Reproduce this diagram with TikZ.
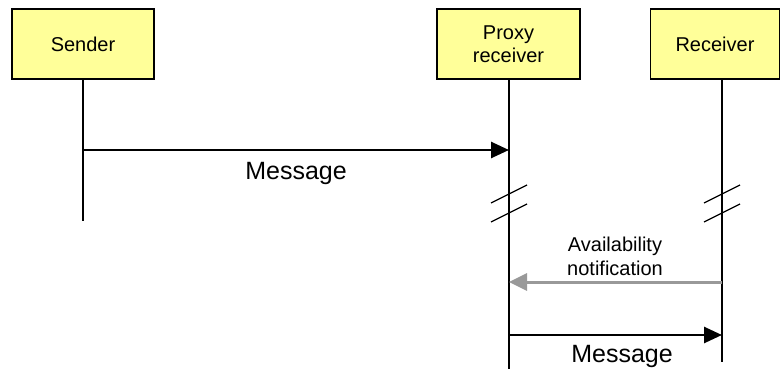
\documentclass[tikz,border=0pt]{standalone}
\usepackage{fontspec}
\setmainfont{Liberation Sans}
\usetikzlibrary{arrows.meta}
\definecolor{boxfill}{HTML}{FFFF99}
\definecolor{notegray}{HTML}{999999}
\tikzset{
  party/.style={draw=black, line width=1.5pt, fill=boxfill, inner sep=0pt,
    font=\fontsize{20}{23}\selectfont, align=center},
  lifeline/.style={line width=1.5pt},
  msg/.style={line width=2.6pt, -{Triangle[length=18pt,width=16pt]}},
  notemsg/.style={line width=3pt, draw=notegray, -{Triangle[length=18pt,width=17pt,fill=notegray]}},
  breakmark/.style={line width=1.3pt},
  lbl/.style={font=\fontsize{20}{23.5}\selectfont, align=center, inner sep=0pt},
  biglbl/.style={font=\fontsize{25}{28}\selectfont, inner sep=0pt, anchor=base}
}
\begin{document}
\begin{tikzpicture}[x=1pt,y=-1pt]
\useasboundingbox (0,0) rectangle (781,369);
% participants
\node[party, minimum width=142pt, minimum height=70pt] (snd) at (83,44) {Sender};
\node[party, minimum width=143pt, minimum height=70pt] (prx) at (508.5,44) {Proxy\\receiver};
\node[party, minimum width=129pt, minimum height=70pt] (rcv) at (715,44) {Receiver};
% lifeline ends
\coordinate (sndEnd) at (83,221);
\coordinate (prxEnd) at (509,369);
\coordinate (rcvEnd) at (722,362);
\draw[lifeline] (snd.south) -- (sndEnd);
\draw[lifeline] (prx.south -| prxEnd) -- (prxEnd);
\draw[lifeline] (rcv.south -| rcvEnd) -- (rcvEnd);
% break marks on the lifelines
\foreach \x in {509,722} {
  \draw[breakmark] (\x-18,203) -- (\x+18,185);
  \draw[breakmark] (\x-18,222) -- (\x+18,204);
}
% messages
\coordinate (m1a) at (83,150);
\coordinate (m1b) at (509,150);
\draw[msg] (m1a) -- (m1b);
\node[biglbl] (m1l) at (296,179.5) {Message};
\coordinate (ava) at (722,282);
\coordinate (avb) at (509,282);
\draw[notemsg] (ava) -- (avb);
\node[lbl, anchor=base] (avl) at (615,275) {Availability\\notification};
\coordinate (m2a) at (509,335);
\coordinate (m2b) at (722,335);
\draw[msg] (m2a) -- (m2b);
\node[biglbl] (m2l) at (622,362) {Message};
\end{tikzpicture}
\end{document}
